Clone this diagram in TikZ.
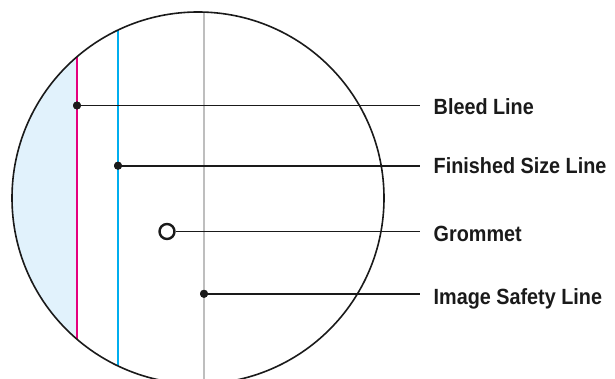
\documentclass[tikz,border=0pt]{standalone}
\usepackage{fontspec}
\setmainfont[FakeStretch=0.9]{Liberation Sans}
\definecolor{bleedc}{HTML}{E5007E}
\definecolor{finc}{HTML}{00AEEF}
\definecolor{safec}{HTML}{BEBEBE}
\definecolor{fillc}{HTML}{E1F2FC}
\definecolor{inkc}{HTML}{1A1A1A}
\tikzset{
  dot/.style={circle,fill=inkc,inner sep=0pt,minimum size=8pt},
  grom/.style={circle,draw=inkc,line width=2.4pt,fill=white,inner sep=0pt,minimum size=15pt},
  conn/.style={draw=inkc,line width=1.7pt},
  lbl/.style={anchor=base west,inner sep=0pt,font=\fontsize{22}{25}\selectfont\bfseries,text=inkc},
  vline/.style={line width=2.8pt}
}
\begin{document}
\begin{tikzpicture}[x=1pt,y=-1pt]
\useasboundingbox (0,0) rectangle (615,379);
\begin{scope}
  \clip (198,198) circle (186);
  \fill[fillc] (0,0) rectangle (77,400);
  \draw[vline,bleedc] (77,0) -- (77,400);
  \draw[vline,finc] (118,0) -- (118,400);
  \draw[vline,safec] (204,0) -- (204,400);
\end{scope}
\draw[inkc,line width=1.6pt] (198,198) circle (186);
\node[dot] (bleed) at (77,105.5) {};
\node[dot] (fin) at (118,165.7) {};
\node[grom] (grommet) at (167,231.5) {};
\node[dot] (safe) at (204,293.8) {};
\coordinate (e1) at (420,105.5);
\coordinate (e2) at (420,165.7);
\coordinate (e3) at (420,231.5);
\coordinate (e4) at (420,293.8);
\draw[conn] (bleed.center) -- (e1);
\draw[conn] (fin.center) -- (e2);
\draw[conn] (grommet.east) -- (e3);
\draw[conn] (safe.center) -- (e4);
\node[dot] at (bleed) {};
\node[dot] at (fin) {};
\node[dot] at (safe) {};
\node[lbl] (l1) at (433.5,114.3) {Bleed Line};
\node[lbl] (l2) at (433.5,173.3) {Finished Size Line};
\node[lbl] (l3) at (433.5,241.5) {Grommet};
\node[lbl] (l4) at (433.5,304.3) {Image Safety Line};
\end{tikzpicture}
\end{document}
